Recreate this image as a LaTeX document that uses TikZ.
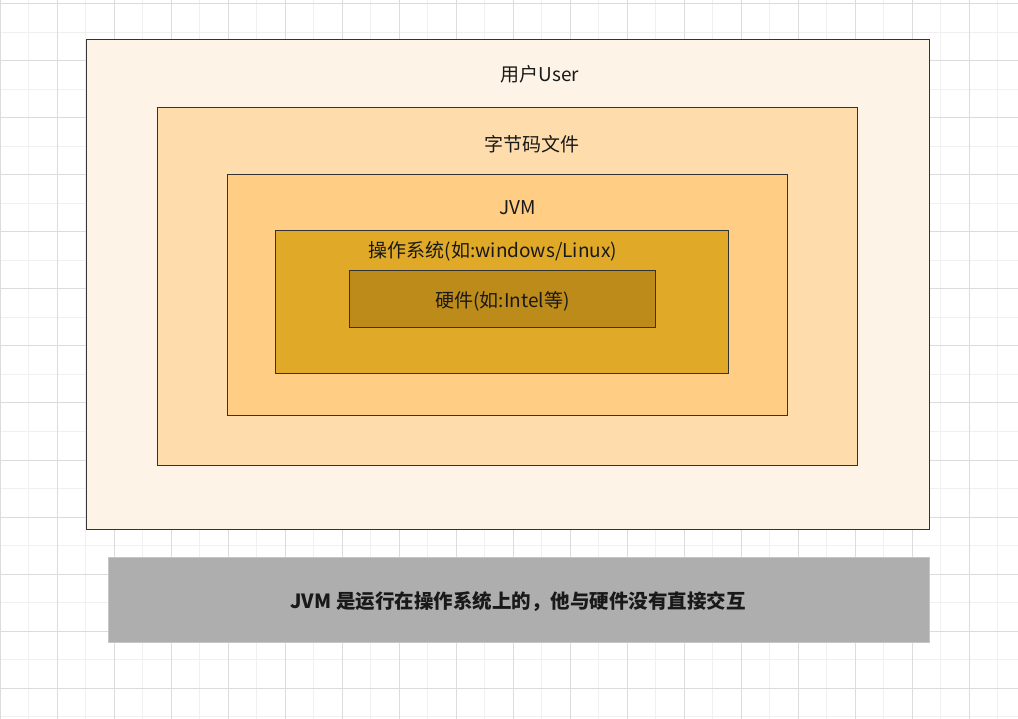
\documentclass[tikz,border=0pt]{standalone}
\usepackage{fontspec}
\setmainfont{Noto Sans CJK SC}
\usepackage{xcolor}
\definecolor{gminor}{HTML}{F0F0F0}
\definecolor{gmajor}{HTML}{DCDCDC}
\definecolor{usr}{HTML}{FEF3E7}
\definecolor{byc}{HTML}{FEDCAC}
\definecolor{jvm}{HTML}{FFCD83}
\definecolor{osc}{HTML}{E0A927}
\definecolor{hwc}{HTML}{BD8B1A}
\definecolor{note}{HTML}{AEAEAE}
\definecolor{ink}{HTML}{333333}
\tikzset{
box/.style={draw=ink, line width=1pt, inner sep=0pt},
lbl/.style={text=black!90, inner sep=0pt, font=\fontsize{19}{23}\selectfont}
}
\begin{document}
\begin{tikzpicture}[x=1pt,y=-1pt]
\useasboundingbox (0,0) rectangle (1018,719);
\clip (0,0) rectangle (1018,719);
\fill[white] (0,0) rectangle (1018,719);
\begin{scope}[yshift=-4pt]
\draw[step=28.5pt, line width=1pt, gminor] (0,723) grid (1018,-4);
\draw[step=57pt, line width=1pt, gmajor] (0,723) grid (1018,-4);
\end{scope}
% nested boxes
\node[box, fill=usr, minimum width=843pt, minimum height=490pt] (user) at (507.5,284.5) {};
\node[box, fill=byc, minimum width=700pt, minimum height=357pt] (bytecode) at (507,286.5) {};
\node[box, fill=jvm, minimum width=560pt, minimum height=241pt] (jvm) at (507,295) {};
\node[box, fill=osc, minimum width=453pt, minimum height=143pt] (os) at (501.5,302.5) {};
\node[box, fill=hwc, minimum width=306pt, minimum height=57pt] (hw) at (502,299.5) {};
\node[lbl] (usertxt) at (540,74) {用户User};
\node[lbl] (bytecodetxt) at (532,144) {字节码文件};
\node[lbl] (jvmtxt) at (518,208) {JVM};
\node[lbl] (ostxt) at (493,251) {操作系统(如:windows/Linux)};
\node[lbl] (hwtxt) at (502.5,301) {硬件(如:Intel等)};
% note
\node[draw=gray!45, line width=1pt, fill=note, minimum width=821pt, minimum height=85pt] (remark) at (518.5,599.5) {};
\node[lbl, font=\fontsize{19.5}{23}\selectfont\bfseries] (remarktxt) at (518,602) {JVM 是运行在操作系统上的，他与硬件没有直接交互};
\end{tikzpicture}
\end{document}
